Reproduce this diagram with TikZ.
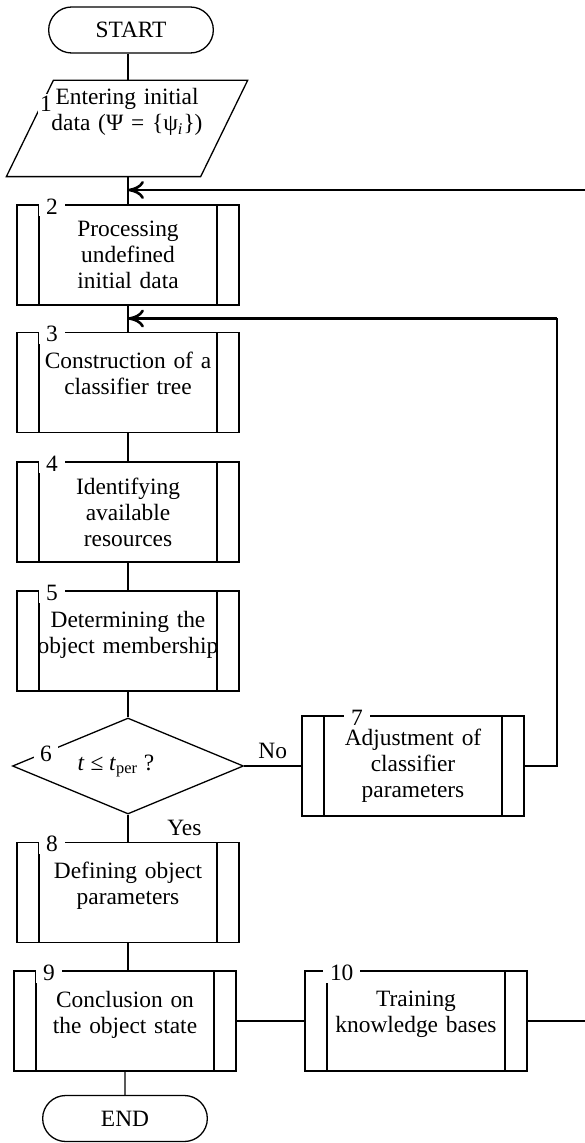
\documentclass[tikz,border=0pt]{standalone}
\usepackage{fontspec}
\setmainfont{Liberation Serif}
\usetikzlibrary{shapes.geometric,shapes.misc,arrows.meta}

\tikzset{
  every node/.style={font=\fontsize{11.7}{13}\selectfont},
  procbox/.style={draw, minimum width=111pt, minimum height=50pt,
    inner sep=0pt, text width=100pt, align=center,
    path picture={
      \draw ([xshift=11pt]path picture bounding box.north west) -- ([xshift=11pt]path picture bounding box.south west);
      \draw ([xshift=-11pt]path picture bounding box.north east) -- ([xshift=-11pt]path picture bounding box.south east);
    }},
  lift/.style={text depth=22pt},
  term/.style={draw, rounded rectangle, minimum width=89pt, minimum height=23pt},
  decide/.style={draw, diamond, aspect=2.4, inner sep=0pt,
    minimum width=115.5pt, minimum height=48pt},
  numlbl/.style={fill=white, inner xsep=3.5pt, inner ysep=1pt, anchor=base west},
  fb/.style={line width=1.3pt, -{To[length=8pt,width=9pt]}},
}
\newcommand\stepnum[2][0pt]{\node[numlbl] (n#2) at ([xshift=11pt+#1,yshift=-5pt]b#2.north west) {#2};}

\begin{document}
\begin{tikzpicture}[x=0.5pt, y=-0.5pt, line width=0.65pt]
\useasboundingbox (0,0) rectangle (584,1143);
% main column
\node[term] (start) at (131,30) {START};
\node[minimum width=120pt, minimum height=47.5pt, text width=110pt, align=center,
  inner sep=0pt, text depth=32pt] (in1) at (127,128.5)
  {Entering initial\\data (Ψ = \{ψ\textsubscript{\textit{i}}\})};
\draw ([xshift=23.5pt]in1.north west) -- (in1.north east)
  -- ([xshift=-23.5pt]in1.south east) -- (in1.south west) -- cycle;
\node[procbox] (b2) at (128,255) {Processing\\undefined\\initial data};
\node[procbox, lift] (b3) at (128,382.5) {Construction of a\\classifier tree};
\node[procbox] (b4) at (128,512) {Identifying\\available\\resources};
\node[procbox, lift] (b5) at (128,641) {Determining the\\object membership};
\node[decide] (d6) at (128,766) {\textit{t} ≤ \textit{t}\textsubscript{per} ?\hspace*{12pt}};
\node[procbox, lift] (b8) at (128,892.5) {Defining object\\parameters};
\node[procbox, lift] (b9) at (125,1021) {Conclusion on\\the object state};
\node[term] (end) at (125,1118.5) {END};
% side boxes
\node[procbox] (b7) at (413,766) {Adjustment of\\classifier\\parameters};
\node[procbox, lift] (b10) at (416,1021) {Training\\knowledge bases};

% numbers
\node[fill=white, inner sep=1pt] (n1) at (46,104) {1};
\stepnum{2}
\stepnum{3}
\stepnum{4}
\stepnum{5}
\node[fill=white, inner xsep=3pt, inner ysep=1pt, anchor=base] (n6) at (46,761) {6};
\stepnum[10pt]{7}
\stepnum{8}
\stepnum{9}
\stepnum[-2pt]{10}

% connectors
\coordinate (j1) at (128,190);
\coordinate (j2) at (128,318.5);
\coordinate (c7) at (557,318.5);
\coordinate (c10) at (600,190);
\draw (start.south -| b2) -- (b2 |- in1.north);
\draw (b2 |- in1.south) -- (b2);
\draw (b2) -- (b3);
\draw (b3) -- (b4);
\draw (b4) -- (b5);
\draw (b5) -- (d6);
\draw (d6) -- node[right=16pt] (lyes) {Yes} (b8);
\draw (d6) -- node[above] (lno) {No} (b7);
\draw (b8) -- (b8 |- b9.north);
\draw (b9) -- (end);
\draw (b9) -- (b10);
% feedback
\draw (b7.east) -| (c7);
\draw[fb] (c7) -- (j2);
\draw (b10.east) -| (c10);
\draw[fb] (c10) -- (j1);
\end{tikzpicture}
\end{document}
